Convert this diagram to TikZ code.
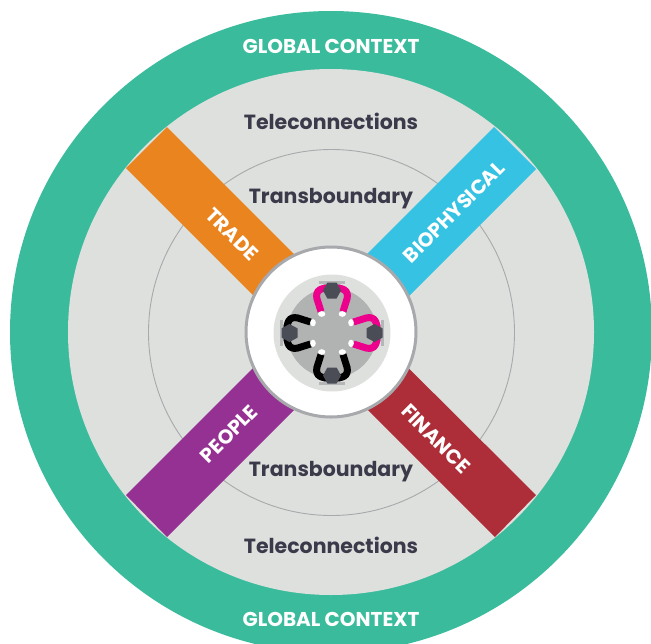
\documentclass[tikz,border=0pt]{standalone}
\usepackage{fontspec}
\setmainfont{Poppins}
\definecolor{ringgreen}{HTML}{3ABC9C}
\definecolor{fieldgrey}{HTML}{DEE0DD}
\definecolor{linegrey}{HTML}{A7A9AC}
\definecolor{inktext}{HTML}{3A3A4A}
\definecolor{bandorange}{HTML}{EA841F}
\definecolor{bandblue}{HTML}{36C3E3}
\definecolor{bandpurple}{HTML}{953192}
\definecolor{bandred}{HTML}{AD2E38}
\definecolor{tablegrey}{HTML}{B1B3B3}
\definecolor{headdark}{HTML}{4A4D55}
\definecolor{armpink}{HTML}{EC008C}
\tikzset{
  x=1pt,y=-1pt,
  contexttext/.style={text=white,font=\bfseries\fontsize{20}{24}\selectfont,inner sep=0pt},
  leveltext/.style={text=inktext,font=\bfseries\fontsize{20.5}{24}\selectfont,inner sep=0pt},
  bandtext/.style={text=white,font=\bfseries\fontsize{20}{24}\selectfont,inner sep=0pt},
  armline/.style={line width=7pt,line cap=butt},
  person/.pic={
    \fill[linegrey!85] (-13,-52) rectangle (13,-49);
    \fill[linegrey!85] (-8,-49) -- (8,-49) -- (13,-40) -- (-13,-40) -- cycle;
    \draw[armline,draw=#1] (-11,-21.5) -- (-14,-31) .. controls (-18,-41) and (-13,-45) .. (-4,-45);
    \draw[armline,draw=#1] (11,-21.5) -- (14,-31) .. controls (18,-41) and (13,-45) .. (4,-45);
    \fill[white] (-10.3,-19) ellipse (3.6 and 2.8);
    \fill[white] (10.3,-19) ellipse (3.6 and 2.8);
    \fill[headdark] (-4.6,-50.5) -- (4.6,-50.5) -- (9,-42.5) -- (4.6,-34.5) -- (-4.6,-34.5) -- (-9,-42.5) -- cycle;
  },
  person/.default=black
}
\begin{document}
\begin{tikzpicture}
\useasboundingbox (0,0) rectangle (651,643);
\begin{scope}
\clip (0,0) rectangle (651,643);
\fill[ringgreen] (331,332) circle [radius=321];
\fill[fieldgrey] (331,332) circle [radius=263];
\draw[linegrey,line width=0.9pt] (331.5,332.5) circle [radius=183];
\fill[bandorange] (167,127) -- (126,168) -- (331,373) -- (372,332) -- cycle;
\fill[bandblue] (494,127) -- (536,169) -- (331,374) -- (289,332) -- cycle;
\fill[bandpurple] (126,495) -- (167,537) -- (372,332) -- (331,290) -- cycle;
\fill[bandred] (536,495) -- (495,537) -- (290,332) -- (331,291) -- cycle;
\fill[white,draw=linegrey,line width=3pt] (331,332) circle [radius=85];
\fill[fieldgrey] (332,333) circle [radius=58.5];
\fill[tablegrey] (332,333) circle [radius=45];
\pic at (332,333) {person=armpink};
\pic[rotate=-90] at (332,333) {person=armpink};
\pic[rotate=180] at (332,333) {person=black};
\pic[rotate=90] at (332,333) {person=black};
\end{scope}
\node[contexttext] (gtop) at (331,46) {GLOBAL CONTEXT};
\node[contexttext] (gbot) at (331,619) {GLOBAL CONTEXT};
\node[leveltext] (tctop) at (331,121) {Teleconnections};
\node[leveltext] (tbtop) at (331,199) {Transboundary};
\node[leveltext] (tbbot) at (331,472) {Transboundary};
\node[leveltext] (tcbot) at (331,545) {Teleconnections};
\node[bandtext,rotate=-45] (trade) at (232,234) {TRADE};
\node[bandtext,rotate=45] (bio) at (454,212) {BIOPHYSICAL};
\node[bandtext,rotate=45] (people) at (229,434) {PEOPLE};
\node[bandtext,rotate=-45] (finance) at (436,439) {FINANCE};
\end{tikzpicture}
\end{document}
